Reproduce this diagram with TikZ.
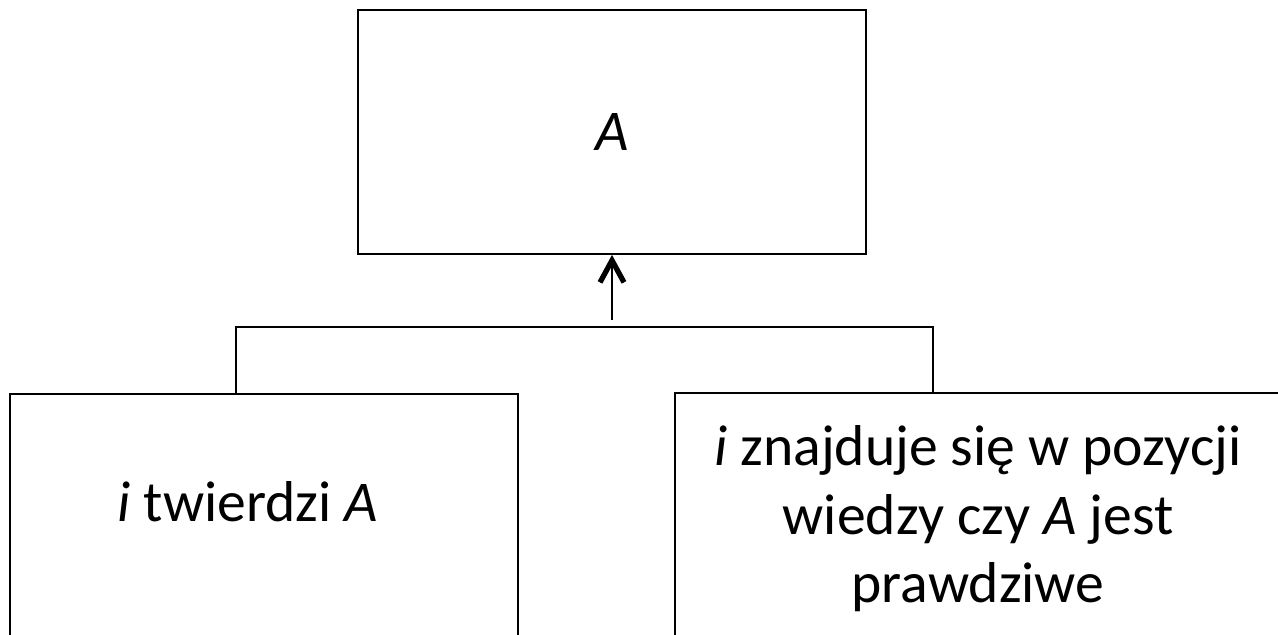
\documentclass[tikz,border=0pt]{standalone}
\usepackage{fontspec}
\setmainfont{Carlito}
\usetikzlibrary{arrows.meta}
\begin{document}
\begin{tikzpicture}[box style/.style={draw=black, line width=0.5pt, rectangle, inner sep=0pt},
    text style/.style={align=center, font=\fontsize{16.4}{19.5}\selectfont},]
    \useasboundingbox (0,0) rectangle (12.78,6.35);
    \clip (0,0) rectangle (12.78,6.35);

    \pgfmathsetmacro{\wid}{5.08}

    \coordinate (jl) at (2.36,3.08);
    \coordinate (jr) at (9.33,3.08);
    \coordinate (up) at (6.12,3.15);

    % boxes
    \node[style=box style, minimum width=\wid cm, minimum height=2.44cm, style=text style] (top) at (6.12,5.03) {\textit{A}};
    \node[style=box style, minimum width=\wid cm, minimum height=2.6cm] (claimbox) at (2.64,1.11) {};
    \node[style=box style, minimum width=6.4cm, minimum height=2.6cm] (posbox) at (9.95,1.12) {};

    \node[style=text style] (claim) at (2.48,1.33) {\textit{i} twierdzi \textit{A}};
    \node[style=text style] (pos) at (9.78,1.16) {\textit{i} znajduje się w pozycji\\ wiedzy czy \textit{A} jest\\ prawdziwe};

    % connectors
    \draw[line width=0.5pt] (jl |- claimbox.north) -- (jl) -- (jr) -- (jr |- posbox.north);
    \draw[line width=0.5pt, -{Straight Barb[length=2.2mm, width=2.4mm, line width=1.5pt]}] (up) -- (top.south);

\end{tikzpicture}
\end{document}
